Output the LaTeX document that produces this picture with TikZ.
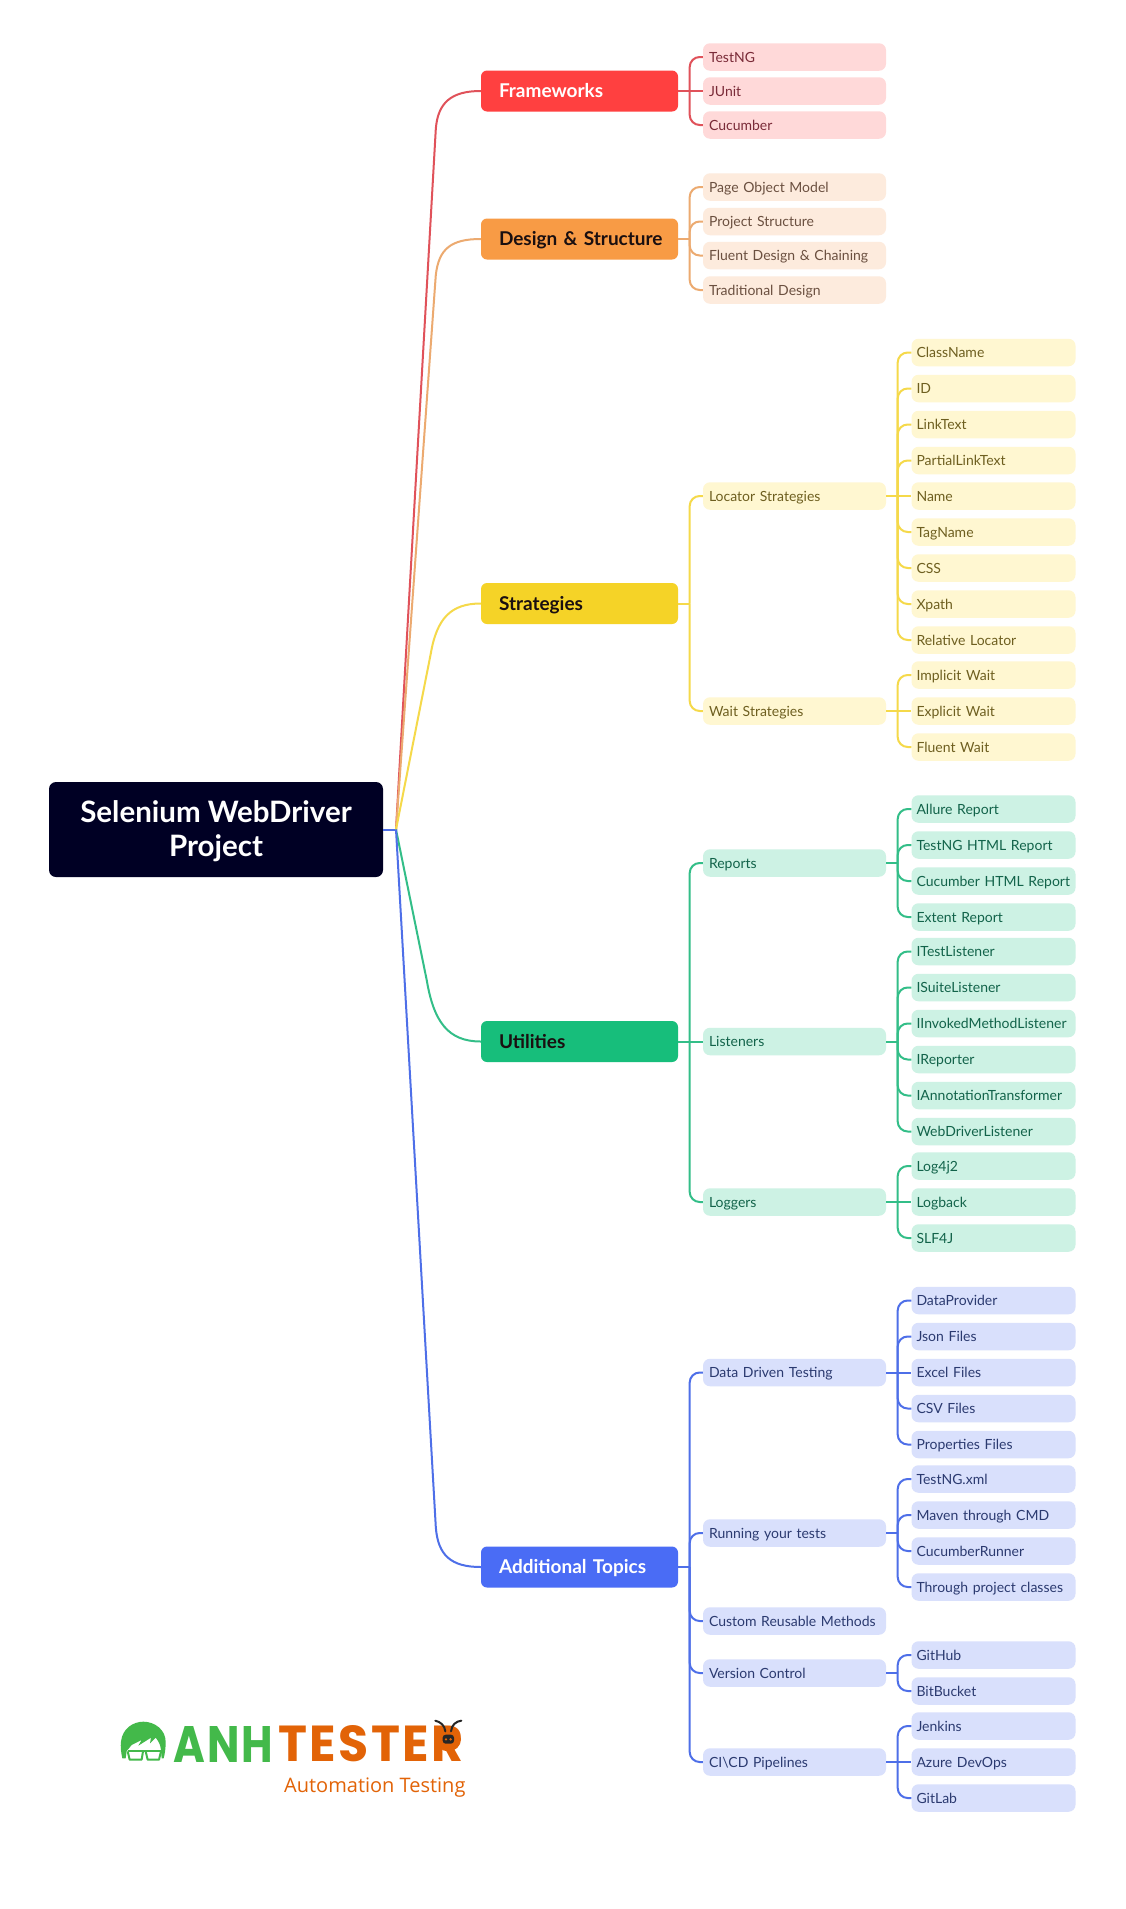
\documentclass[tikz,border=0pt]{standalone}
\usepackage{fontspec}
\setmainfont{Lato}
\newfontfamily\logofont[LetterSpace=5]{Poppins}
\newfontfamily\subfont{Open Sans}
\usetikzlibrary{calc}
\definecolor{rootfill}{HTML}{000024}
\definecolor{redA}{HTML}{FF4040}\definecolor{redB}{HTML}{FFD9D9}\definecolor{redT}{HTML}{7A2B38}\definecolor{redL}{HTML}{E0525A}
\definecolor{orgA}{HTML}{F89B45}\definecolor{orgB}{HTML}{FDEBDD}\definecolor{orgT}{HTML}{6B5040}\definecolor{orgL}{HTML}{ECAA70}
\definecolor{yelA}{HTML}{F5D327}\definecolor{yelB}{HTML}{FFF7D1}\definecolor{yelT}{HTML}{6E5F20}\definecolor{yelL}{HTML}{F5D94A}
\definecolor{grnA}{HTML}{17BE7B}\definecolor{grnB}{HTML}{CDF2E4}\definecolor{grnT}{HTML}{12634A}\definecolor{grnL}{HTML}{33BE88}
\definecolor{bluA}{HTML}{4A6CF5}\definecolor{bluB}{HTML}{D9E0FC}\definecolor{bluT}{HTML}{2B3A70}\definecolor{bluL}{HTML}{4E6FE8}
\definecolor{logoG}{HTML}{43B94A}\definecolor{logoO}{HTML}{E26307}\definecolor{darkT}{HTML}{1A0F10}
\tikzset{
  rootbox/.style={fill=rootfill,text=white,rounded corners=7pt,minimum width=334pt,minimum height=95pt,inner sep=0pt},
  topbox/.style={rounded corners=6pt,minimum width=197pt,minimum height=41pt,text width=161pt,text height=17pt,text depth=3.6pt,inner xsep=18pt,inner ysep=0pt,align=left,font=\fontsize{19}{22}\selectfont\bfseries},
  midbox/.style={rounded corners=7pt,minimum width=183pt,minimum height=27.5pt,text width=171pt,text height=14pt,text depth=3.4pt,inner xsep=6pt,inner ysep=0pt,align=left,font=\fontsize{14}{17}\selectfont},
  leafbox/.style={rounded corners=7pt,minimum width=164pt,minimum height=27.5pt,text width=154pt,text height=14pt,text depth=3.4pt,inner xsep=5pt,inner ysep=0pt,align=left,font=\fontsize{14}{17}\selectfont},
  mainline/.style={line width=2pt},
  subline/.style={line width=2pt},
  redset/.style={redL,midbox/.append style={fill=redB,text=redT},leafbox/.append style={fill=redB,text=redT}},
  orgset/.style={orgL,midbox/.append style={fill=orgB,text=orgT},leafbox/.append style={fill=orgB,text=orgT}},
  yelset/.style={yelL,midbox/.append style={fill=yelB,text=yelT},leafbox/.append style={fill=yelB,text=yelT}},
  grnset/.style={grnL,midbox/.append style={fill=grnB,text=grnT},leafbox/.append style={fill=grnB,text=grnT}},
  bluset/.style={bluL,midbox/.append style={fill=bluB,text=bluT},leafbox/.append style={fill=bluB,text=bluT}},
}
\newcommand{\stemfrom}[1]{\coordinate (#1-h) at ($(#1.east)+(11.5,0)$);\draw[subline] (#1.east) -- (#1-h);}
\newcommand{\bendto}[2]{\draw[subline,rounded corners=10pt] (#1-h) |- (#2.west);}
\newcommand{\flatto}[2]{\draw[subline] (#1-h) -- (#2.west);}
\newcommand{\midn}[3]{\node[midbox] (#1) at (794.5,#2) {\mbox{#3}};}
\newcommand{\leafn}[3]{\node[leafbox] (#1) at (993.5,#2) {\mbox{#3}};}
\newcommand{\topn}[5]{\node[topbox,fill=#3,text=#4] (#1) at (579.5,#2) {\mbox{#5}};}
\newcommand{\branch}[8]{\draw[mainline,#2] (hub) -- ($(#1.west)+(#3,#4)$) .. controls ($(#1.west)+(#5,#6)$) and ($(#1.west)+(#7,#8)$) .. (#1.west);}
\begin{document}
\begin{tikzpicture}[x=1pt,y=-1pt]
\useasboundingbox (0,0) rectangle (1125,1909);
\fill[white] (0,0) rectangle (1125,1909);
\node[rootbox] (root) at (216,829.5) {\parbox[c][95pt][c]{334pt}{\vspace{3pt}\centering\fontsize{29.5}{34}\selectfont\bfseries Selenium WebDriver\hspace{14pt}\\Project}};
\coordinate (hub) at (396,829.5);
\topn{fw}{91}{redA}{white}{Frameworks}
\topn{ds}{239}{orgA}{darkT}{Design \& Structure}
\topn{st}{603.5}{yelA}{darkT}{Strategies}
\topn{ut}{1041.5}{grnA}{darkT}{Utilities}
\topn{ad}{1567}{bluA}{white}{Additional Topics}
\draw[mainline,bluL] (root.east) -- (hub);
\branch{fw}{redL}{-45}{38}{-43}{12}{-30}{0}
\branch{ds}{orgL}{-45}{36}{-42}{10}{-30}{0}
\branch{st}{yelL}{-50}{50}{-44}{15}{-30}{0}
\branch{ut}{grnL}{-54}{-61}{-47}{-20}{-33}{0}
\branch{ad}{bluL}{-45}{-40}{-43}{-12}{-30}{0}

% Frameworks
\begin{scope}[redset]
\midn{a1}{57}{TestNG}\midn{a2}{91}{JUnit}\midn{a3}{125}{Cucumber}
\stemfrom{fw}\bendto{fw}{a1}\flatto{fw}{a2}\bendto{fw}{a3}
\end{scope}
% Design
\begin{scope}[orgset]
\midn{b1}{187}{Page Object Model}\midn{b2}{221.5}{Project Structure}\midn{b3}{255.5}{Fluent Design \& Chaining}\midn{b4}{290}{Traditional Design}
\stemfrom{ds}\bendto{ds}{b1}\bendto{ds}{b2}\bendto{ds}{b3}\bendto{ds}{b4}
\end{scope}
% Strategies
\begin{scope}[yelset]
\midn{c1}{496}{Locator Strategies}\midn{c2}{711}{Wait Strategies}
\stemfrom{st}\bendto{st}{c1}\bendto{st}{c2}
\leafn{c1a}{352.5}{ClassName}\leafn{c1b}{388.5}{ID}\leafn{c1c}{424.5}{LinkText}\leafn{c1d}{460.5}{PartialLinkText}\leafn{c1e}{496}{Name}\leafn{c1f}{532}{TagName}\leafn{c1g}{568}{CSS}\leafn{c1h}{604}{Xpath}\leafn{c1i}{640}{Relative Locator}
\stemfrom{c1}\bendto{c1}{c1a}\bendto{c1}{c1b}\bendto{c1}{c1c}\bendto{c1}{c1d}\flatto{c1}{c1e}\bendto{c1}{c1f}\bendto{c1}{c1g}\bendto{c1}{c1h}\bendto{c1}{c1i}
\leafn{c2a}{675}{Implicit Wait}\leafn{c2b}{711}{Explicit Wait}\leafn{c2c}{747}{Fluent Wait}
\stemfrom{c2}\bendto{c2}{c2a}\flatto{c2}{c2b}\bendto{c2}{c2c}
\end{scope}
% Utilities
\begin{scope}[grnset]
\midn{d1}{863}{Reports}\midn{d2}{1041.5}{Listeners}\midn{d3}{1202}{Loggers}
\stemfrom{ut}\bendto{ut}{d1}\flatto{ut}{d2}\bendto{ut}{d3}
\leafn{d1a}{809}{Allure Report}\leafn{d1b}{845}{TestNG HTML Report}\leafn{d1c}{881}{Cucumber HTML Report}\leafn{d1d}{917}{Extent Report}
\stemfrom{d1}\bendto{d1}{d1a}\bendto{d1}{d1b}\bendto{d1}{d1c}\bendto{d1}{d1d}
\leafn{d2a}{951.5}{ITestListener}\leafn{d2b}{987.5}{ISuiteListener}\leafn{d2c}{1023.5}{IInvokedMethodListener}\leafn{d2d}{1059.5}{IReporter}\leafn{d2e}{1095.5}{IAnnotationTransformer}\leafn{d2f}{1131.5}{WebDriverListener}
\stemfrom{d2}\bendto{d2}{d2a}\bendto{d2}{d2b}\bendto{d2}{d2c}\bendto{d2}{d2d}\bendto{d2}{d2e}\bendto{d2}{d2f}
\leafn{d3a}{1166}{Log4j2}\leafn{d3b}{1202}{Logback}\leafn{d3c}{1238}{SLF4J}
\stemfrom{d3}\bendto{d3}{d3a}\flatto{d3}{d3b}\bendto{d3}{d3c}
\end{scope}
% Additional
\begin{scope}[bluset]
\midn{e1}{1372.5}{Data Driven Testing}\midn{e2}{1533}{Running your tests}\midn{e3}{1621}{Custom Reusable Methods}\midn{e4}{1673}{Version Control}\midn{e5}{1762}{CI\textbackslash CD Pipelines}
\stemfrom{ad}\bendto{ad}{e1}\bendto{ad}{e2}\bendto{ad}{e3}\bendto{ad}{e4}\bendto{ad}{e5}
\leafn{e1a}{1300.5}{DataProvider}\leafn{e1b}{1336.5}{Json Files}\leafn{e1c}{1372.5}{Excel Files}\leafn{e1d}{1408.5}{CSV Files}\leafn{e1e}{1444.5}{Properties Files}
\stemfrom{e1}\bendto{e1}{e1a}\bendto{e1}{e1b}\flatto{e1}{e1c}\bendto{e1}{e1d}\bendto{e1}{e1e}
\leafn{e2a}{1479}{TestNG.xml}\leafn{e2b}{1515}{Maven through CMD}\leafn{e2c}{1551}{CucumberRunner}\leafn{e2d}{1587}{Through project classes}
\stemfrom{e2}\bendto{e2}{e2a}\bendto{e2}{e2b}\bendto{e2}{e2c}\bendto{e2}{e2d}
\leafn{e4a}{1655}{GitHub}\leafn{e4b}{1691}{BitBucket}
\stemfrom{e4}\bendto{e4}{e4a}\bendto{e4}{e4b}
\leafn{e5a}{1726}{Jenkins}\leafn{e5b}{1762}{Azure DevOps}\leafn{e5c}{1798}{GitLab}
\stemfrom{e5}\bendto{e5}{e5a}\flatto{e5}{e5b}\bendto{e5}{e5c}
\end{scope}
% Logo
\node[anchor=south west,inner sep=0pt,text=logoG] (lg1) at (173,1762.5) {\resizebox{100pt}{36pt}{\logofont\bfseries ANH}};
\node[anchor=south west,inner sep=0pt,text=logoO] (lg2) at (278,1762.5) {\resizebox{185pt}{36pt}{\logofont\bfseries TESTER}};
\node[anchor=base west,inner sep=0pt,text=logoO] (lg3) at (284,1792) {\subfont\fontsize{20}{24}\selectfont Automation Testing};
\begin{scope}[shift={(115,1715)},x=0.3333pt,y=-0.3333pt]
 \fill[logoG] (22,130) .. controls (18,112) and (16,95) .. (18,80) .. controls (22,40) and (55,20) .. (85,20) .. controls (120,20) and (152,45) .. (152,80) .. controls (152,100) and (150,115) .. (146,130) -- (140,130) -- (138,105) .. controls (136,90) and (132,80) .. (122,68) -- (105,85) -- (108,68) -- (70,92) -- (80,75) -- (50,90) -- (35,108) -- (32,130) -- cycle;
 \draw[logoG,line width=2pt,line join=round] (38,109) -- (138,109);
 \draw[logoG,line width=2pt,line join=round] (38,109) -- (44,134) -- (80,134) -- (84,109);
 \draw[logoG,line width=2pt,line join=round] (92,109) -- (98,134) -- (132,134) -- (138,109);
\end{scope}
\begin{scope}[shift={(420,1712)},x=0.3333pt,y=-0.3333pt]
 \fill[logoO] (85,82) ellipse (38 and 36);
 \fill[black!85,rounded corners=3pt] (68,68) rectangle (102,95);
 \fill[logoO] (78,82) circle (4);\fill[logoO] (92,82) circle (4);
 \draw[black!85,line width=2pt,line cap=round] (46,26) .. controls (62,30) and (74,40) .. (76,58);
 \draw[black!85,line width=2pt,line cap=round] (124,26) .. controls (108,28) and (95,38) .. (93,58);
\end{scope}
\end{tikzpicture}
\end{document}
